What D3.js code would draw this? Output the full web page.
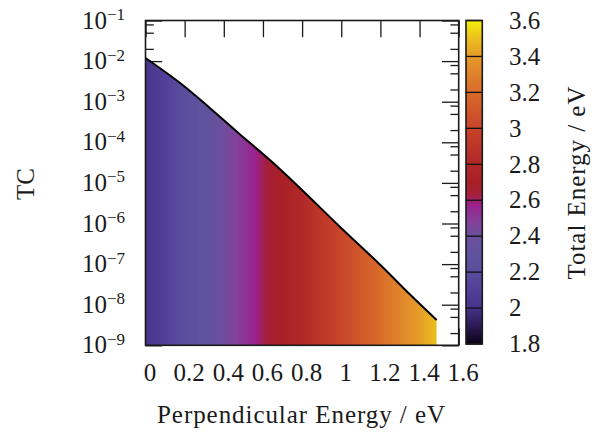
<!DOCTYPE html>
<html>
<head>
<meta charset="utf-8">
<script src="https://cdn.jsdelivr.net/npm/d3@7.9.0/dist/d3.min.js"></script>
<style>
  html, body { margin: 0; padding: 0; background: #fff; }
  svg { display: block; font-family: "Liberation Serif", "DejaVu Serif", serif; }
  .tick text { fill: #1a1a1a; }
</style>
</head>
<body>
<svg id="chart" width="610" height="434"></svg>
<script>
// curve
const perpEnergy = [0, 0.18, 0.33, 0.48, 0.64, 0.79, 0.99, 1.2, 1.35, 1.487];
const tcValues = [1.19e-2, 2.8e-3, 6.9e-4, 1.6e-4, 3.5e-5, 7.4e-6, 8.6e-7, 9.5e-8, 1.8e-8, 4.2e-9];
const energyOffset = 2.01; // total energy = perpendicular energy + offset

// axis ticks
const xTicks = [0, 0.2, 0.4, 0.6, 0.8, 1, 1.2, 1.4, 1.6];
const yExponents = [-1, -2, -3, -4, -5, -6, -7, -8, -9];
const yMinorMantissas = [2, 5, 8];
const cbTicks = [1.8, 2.0, 2.2, 2.4, 2.6, 2.8, 3.0, 3.2, 3.4, 3.6];

// colour map for total energy
const cbValues = [1.8, 1.9, 2.0, 2.1, 2.2, 2.3, 2.4, 2.48, 2.57, 2.63, 2.7, 2.8, 3.0, 3.2, 3.4, 3.5, 3.6];
const cbColors = ['#0c0414', '#2b1a55', '#45328a', '#523f98', '#5a4d9e', '#5f539f', '#6a4f9c',
  '#84409a', '#9a2290', '#a41f3a', '#a82026', '#b02826', '#c7442a', '#d96a2a', '#e59a2a',
  '#ecbf1e', '#f6f00c'];

const svg = d3.select('#chart');
const plot = { left: 145.5, right: 458.7, top: 20.5, bottom: 345.3 };
const bar = { left: 466, right: 482.3, top: 20.5, bottom: 344 };
const majorLen = 16.7, minorLen = 8.3;

const xScale = d3.scaleLinear().domain([0, 1.6]).range([plot.left, plot.right]);
const yScale = d3.scaleLog().domain([1e-9, 1e-1]).range([plot.bottom, plot.top]);
const cScale = d3.scaleLinear().domain([1.8, 3.6]).range([bar.bottom, bar.top]);
const colorScale = d3.scaleLinear().domain(cbValues).range(cbColors).clamp(true);

const defs = svg.append('defs');

// horizontal gradient for the filled area
const fillGrad = defs.append('linearGradient')
  .attr('id', 'fillGrad')
  .attr('gradientUnits', 'userSpaceOnUse')
  .attr('x1', xScale(0)).attr('x2', xScale(1.6))
  .attr('y1', 0).attr('y2', 0);
d3.range(0, 1.0001, 1 / 160).forEach(t => {
  fillGrad.append('stop')
    .attr('offset', t)
    .attr('stop-color', colorScale(t * 1.6 + energyOffset));
});

// vertical gradient for the colour bar
const barGrad = defs.append('linearGradient')
  .attr('id', 'barGrad')
  .attr('gradientUnits', 'userSpaceOnUse')
  .attr('x1', 0).attr('x2', 0)
  .attr('y1', cScale(1.8)).attr('y2', cScale(3.6));
d3.range(0, 1.0001, 1 / 180).forEach(t => {
  barGrad.append('stop')
    .attr('offset', t)
    .attr('stop-color', colorScale(1.8 + t * 1.8));
});

const minorValues = [];
yExponents.forEach(e => {
  if (e > -9) yMinorMantissas.forEach(m => minorValues.push(m * Math.pow(10, e - 1)));
});
const majorValues = yExponents.map(e => Math.pow(10, e));

// ticks (drawn under the fill)
const axes = svg.append('g').attr('class', 'axes');

const xAxisBottom = axes.append('g')
  .attr('transform', `translate(0,${plot.bottom})`)
  .call(d3.axisBottom(xScale).tickValues(xTicks).tickSize(-majorLen).tickFormat(d3.format('~g')));
xAxisBottom.selectAll('.tick text')
  .attr('y', 36).attr('dy', null).attr('dx', 4)
  .style('font-size', '25px');

axes.append('g')
  .attr('transform', `translate(0,${plot.top})`)
  .call(d3.axisTop(xScale).tickValues(xTicks).tickSize(-majorLen).tickFormat(''));

axes.append('g')
  .attr('transform', `translate(${plot.left},0)`)
  .call(d3.axisLeft(yScale).tickValues(majorValues).tickSize(-majorLen).tickFormat(''));
axes.append('g')
  .attr('transform', `translate(${plot.left},0)`)
  .call(d3.axisLeft(yScale).tickValues(minorValues).tickSize(-minorLen).tickFormat(''));
axes.append('g')
  .attr('transform', `translate(${plot.right},0)`)
  .call(d3.axisRight(yScale).tickValues(majorValues).tickSize(-majorLen).tickFormat(''));
axes.append('g')
  .attr('transform', `translate(${plot.right},0)`)
  .call(d3.axisRight(yScale).tickValues(minorValues).tickSize(-minorLen).tickFormat(''));

axes.selectAll('g').attr('font-family', null).attr('font-size', null);
axes.selectAll('.domain').remove();
axes.selectAll('.tick line').attr('stroke', '#1a1a1a').attr('stroke-width', 1.3);

// y tick labels 10^k
const yLabels = svg.append('g').attr('fill', '#1a1a1a');
majorValues.forEach((v, i) => {
  const t = yLabels.append('text')
    .attr('x', 125)
    .attr('y', yScale(v) + 8)
    .attr('text-anchor', 'end')
    .style('font-size', '25px');
  t.append('tspan').text('10');
  t.append('tspan')
    .attr('dy', -8.5)
    .style('font-size', '17px')
    .text('\u2212' + Math.abs(yExponents[i]));
});

// filled area under the curve
const points = perpEnergy.map((x, i) => [x, tcValues[i]]);
const area = d3.area()
  .x(d => xScale(d[0]))
  .y0(yScale(1e-9))
  .y1(d => yScale(d[1]))
  .curve(d3.curveCatmullRom.alpha(0.5));
svg.append('path')
  .datum(points)
  .attr('d', area)
  .attr('fill', 'url(#fillGrad)');

const line = d3.line()
  .x(d => xScale(d[0]))
  .y(d => yScale(d[1]))
  .curve(d3.curveCatmullRom.alpha(0.5));
svg.append('path')
  .datum(points)
  .attr('d', line)
  .attr('fill', 'none')
  .attr('stroke', '#000')
  .attr('stroke-width', 2);

// plot frame
svg.append('rect')
  .attr('x', plot.left).attr('y', plot.top)
  .attr('width', plot.right - plot.left).attr('height', plot.bottom - plot.top)
  .attr('fill', 'none').attr('stroke', '#1a1a1a').attr('stroke-width', 1.6);

// colour bar
svg.append('rect')
  .attr('x', bar.left).attr('y', bar.top)
  .attr('width', bar.right - bar.left).attr('height', bar.bottom - bar.top)
  .attr('fill', 'url(#barGrad)');
svg.append('g')
  .selectAll('line')
  .data(cbTicks)
  .join('line')
  .attr('x1', bar.left).attr('x2', bar.right)
  .attr('y1', d => cScale(d)).attr('y2', d => cScale(d))
  .attr('stroke', '#111').attr('stroke-width', 1.3);
svg.append('rect')
  .attr('x', bar.left).attr('y', bar.top)
  .attr('width', bar.right - bar.left).attr('height', bar.bottom - bar.top)
  .attr('fill', 'none').attr('stroke', '#1a1a1a').attr('stroke-width', 1.6);
svg.append('g')
  .selectAll('text')
  .data(cbTicks)
  .join('text')
  .attr('x', 509)
  .attr('y', d => cScale(d))
  .attr('dy', '0.33em')
  .attr('fill', '#1a1a1a')
  .style('font-size', '25px')
  .text(d => d3.format('~g')(d));

// axis titles
svg.append('text')
  .attr('x', 301).attr('y', 423)
  .attr('text-anchor', 'middle')
  .attr('fill', '#1a1a1a')
  .attr('textLength', 288)
  .style('font-size', '25px')
  .text('Perpendicular Energy / eV');

svg.append('text')
  .attr('transform', 'translate(34,184) rotate(-90)')
  .attr('text-anchor', 'middle')
  .attr('fill', '#1a1a1a')
  .style('font-size', '25px')
  .text('TC');

svg.append('text')
  .attr('transform', 'translate(585,183) rotate(-90)')
  .attr('text-anchor', 'middle')
  .attr('fill', '#1a1a1a')
  .attr('textLength', 193)
  .style('font-size', '25px')
  .text('Total Energy / eV');
</script>
</body>
</html>
